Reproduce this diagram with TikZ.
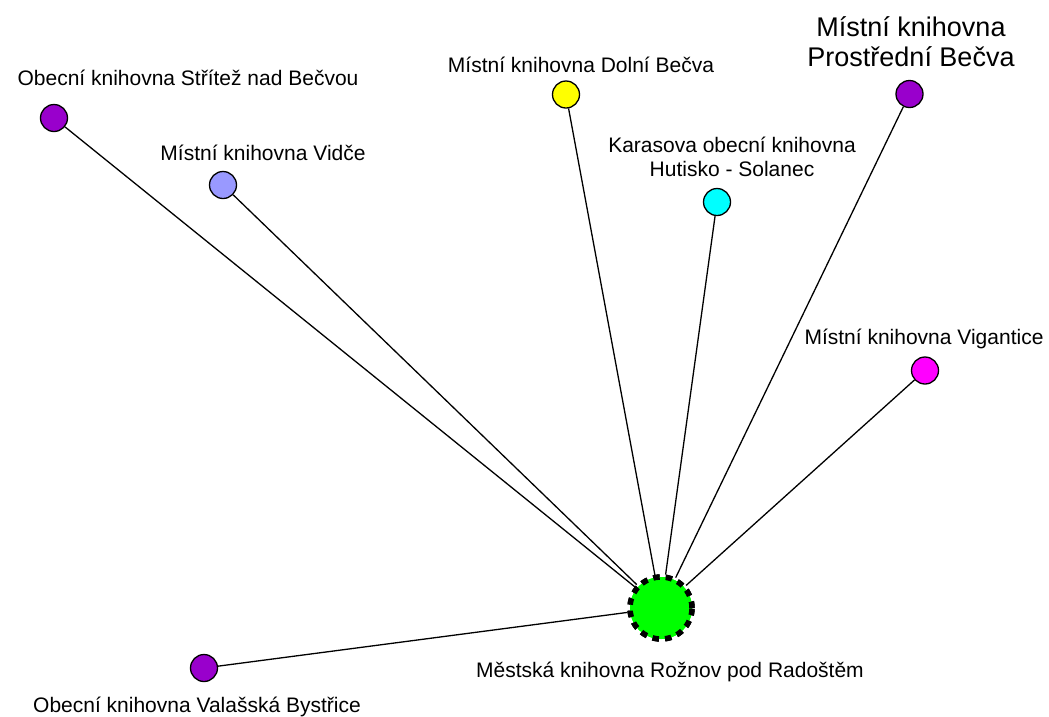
\documentclass[tikz,border=0pt]{standalone}
\usepackage{fontspec}
\setmainfont{Liberation Sans}
\definecolor{cpurple}{RGB}{153,0,204}
\definecolor{cblue}{RGB}{153,153,255}
\definecolor{cyellow}{RGB}{255,255,0}
\definecolor{ccyan}{RGB}{0,255,255}
\definecolor{cmagenta}{RGB}{255,0,255}
\definecolor{cgreen}{RGB}{0,255,0}
\begin{document}
\begin{tikzpicture}[x=1pt,y=-1pt,
  leaf/.style={circle,draw=black,line width=1.3pt,minimum size=27pt,inner sep=0pt},
  hub/.style={circle,fill=cgreen,draw=black,line width=5.5pt,dash pattern=on 6.5pt off 6pt,minimum size=62pt,inner sep=0pt},
  lbl/.style={font=\fontsize{21}{24}\selectfont,inner sep=0pt,align=center},
  biglbl/.style={font=\fontsize{27}{30}\selectfont,inner sep=0pt,align=center},
  edge/.style={draw=black,line width=1.3pt}]
\useasboundingbox (0,0) rectangle (1049,716);
\node[hub] (c) at (661,608) {};
\node[leaf,fill=cpurple] (s) at (54,118) {};
\node[leaf,fill=cblue] (v) at (223,185) {};
\node[leaf,fill=cyellow] (d) at (566,94.5) {};
\node[leaf,fill=cpurple] (p) at (909.5,94) {};
\node[leaf,fill=ccyan] (h) at (717,202) {};
\node[leaf,fill=cmagenta] (g) at (925,370.5) {};
\node[leaf,fill=cpurple] (b) at (204,668) {};
\node[lbl] (ls) at (188,78) {Obecní knihovna Střítež nad Bečvou};
\node[lbl] (lv) at (263,153) {Místní knihovna Vidče};
\node[lbl] (ld) at (581,65) {Místní knihovna Dolní Bečva};
\node[biglbl] (lp) at (911,42) {Místní knihovna\\Prostřední Bečva};
\node[lbl] (lh) at (732,157) {Karasova obecní knihovna\\Hutisko - Solanec};
\node[lbl] (lg) at (924,339) {Místní knihovna Vigantice};
\node[lbl] (lc) at (670,672) {Městská knihovna Rožnov pod Radoštěm};
\node[lbl] (lb) at (197,707) {Obecní knihovna Valašská Bystřice};
\foreach \n in {s,v,d,p,h,g,b} \draw[edge] (\n) -- (c);
\node[hub] at (c) {};
\end{tikzpicture}
\end{document}
